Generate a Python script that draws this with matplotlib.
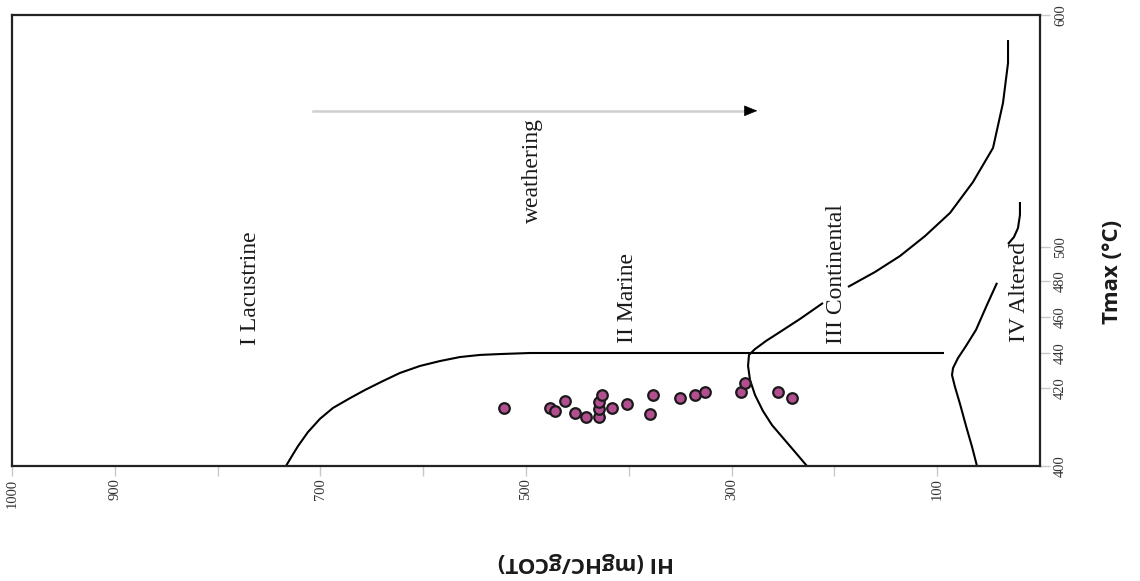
import numpy as np
import matplotlib
matplotlib.use("Agg")
import matplotlib.pyplot as plt

# ---------------- data ----------------
# Tmax axis knots (the reference axis is not uniform): tick values and relative spacing
tmax_ticks = [400, 420, 440, 460, 480, 500, 600]
tmax_pos = [0, 78, 113, 149, 185, 219, 451]   # relative position along the axis

hi_ticks = [1000, 900, 800, 700, 600, 500, 400, 300, 200, 100]
hi_labels = ["1000", "900", "", "700", "", "500", "", "300", "", "100"]

# samples
sample_hi = [521, 477, 472, 462, 452, 442, 429, 429, 429, 426, 416, 402, 379, 376,
             350, 336, 326, 291, 287, 255, 241]
sample_tmax = [414.9, 414.9, 414.1, 416.7, 413.6, 412.6, 412.6, 414.6, 416.4, 418.2,
               414.9, 415.9, 413.3, 418.2, 417.4, 418.2, 419.0, 419.0, 422.9, 419.0, 417.4]

# boundary curves
curve_a_hi = [733.5, 727.6, 721.8, 712.1, 700.4, 687.7, 671.2, 656.6, 639.1, 622.6,
              603.1, 583.7, 564.2, 544.7, 525.3, 496.1, 93.4]
curve_a_tmax = [400, 402.6, 405.1, 408.7, 412.1, 414.9, 417.4, 419.5, 424.0, 428.6,
                432.6, 435.4, 437.7, 438.9, 439.4, 440, 440]

curve_b_hi = [226.7, 238.3, 250, 260.7, 269.5, 277.2, 282.1, 284, 283.1, 277.2, 266.5,
              252.9, 233.5, 211.1, np.nan,
              186.8, 160.5, 136.2, 111.9, 87.5, 65.2, 45.7, 36, 31.1, 31.1]
curve_b_tmax = [400, 403.6, 407.2, 410.5, 414.1, 418.2, 424.6, 432.6, 438.9, 442.2, 446.7,
                451.7, 458.9, 467.8, np.nan,
                476.7, 485.3, 494.7, 504.7, 514.7, 528.0, 542.7, 562.1, 579.3, 589.2]

curve_c_hi = [61.3, 66.1, 72, 77.8, 82.7, 85.6, 84.6, 79.8, 72, 62.3, 51.6, 41.8]
curve_c_tmax = [400, 404.9, 410.3, 415.9, 420.6, 427.4, 431.4, 437.1, 443.9, 452.8, 466.7, 479.0]

curve_d_hi = [19.5, 19.5, 21.4, 25.3, 31.1]
curve_d_tmax = [519.4, 513.8, 508.2, 504.3, 501.3]

arrow_hi = [707, 287]          # grey shaft
arrow_head_hi = [287, 275]     # black head (base, tip)
arrow_tmax = 558.7

zone_labels = ["I Lacustrine", "weathering", "II Marine", "III Continental", "IV Altered"]
zone_hi = [768, 494, 401, 197.5, 20.4]
zone_tmax = [475.8, 533.0, 470.6, 484.1, 473.9]

# ---------------- figure ----------------
fig = plt.figure(figsize=(11.4, 5.81), dpi=100)
ax = fig.add_axes([12 / 1140, 1 - 466 / 581, (1040 - 12) / 1140, (466 - 15) / 581])


def fwd(t):
    return np.interp(t, tmax_ticks, tmax_pos)


def inv(u):
    return np.interp(u, tmax_pos, tmax_ticks)


ax.set_yscale("function", functions=(fwd, inv))
ax.set_xlim(1000, 0)
ax.set_ylim(400, 600)

serif = "Liberation Serif"

line_kw = dict(color="black", lw=1.5, solid_capstyle="butt", solid_joinstyle="round")
ax.plot(curve_a_hi, curve_a_tmax, **line_kw)
ax.plot(curve_b_hi, curve_b_tmax, **line_kw)
ax.plot(curve_c_hi, curve_c_tmax, **line_kw)
ax.plot(curve_d_hi, curve_d_tmax, **line_kw)

# weathering arrow
ax.plot(arrow_hi, [arrow_tmax, arrow_tmax], color="#cfcfcf", lw=1.8)
ax.annotate("", xy=(arrow_head_hi[1], arrow_tmax), xytext=(arrow_head_hi[0], arrow_tmax),
            arrowprops=dict(arrowstyle="-|>,head_length=0.85,head_width=0.35",
                            color="black", lw=0.5, shrinkA=0, shrinkB=0))

ax.scatter(sample_hi, sample_tmax, s=58, facecolor="#b2508f", edgecolor="#1a1a1a",
           linewidth=1.6, zorder=5)

for lab, h, t in zip(zone_labels, zone_hi, zone_tmax):
    ax.text(h, t, lab, rotation=90, ha="center", va="center", fontsize=17,
            family=serif, color="#1a1a1a")

# axes styling
for s in ax.spines.values():
    s.set_linewidth(1.6)
    s.set_color("#222222")

ax.set_xticks(hi_ticks)
ax.set_xticklabels(hi_labels)
ax.tick_params(axis="x", direction="out", length=7, width=1, color="#c8c8c8",
               labelsize=10.5, labelcolor="#333333", pad=2)
for lbl in ax.get_xticklabels():
    lbl.set_rotation(90)
    lbl.set_family(serif)
    lbl.set_va("top")
    lbl.set_ha("center")

ax.yaxis.tick_right()
ax.set_yticks(tmax_ticks)
ax.set_yticklabels([str(t) for t in tmax_ticks])
ax.yaxis.set_minor_locator(matplotlib.ticker.NullLocator())
ax.tick_params(axis="y", direction="out", length=7, width=1, color="#c8c8c8",
               labelsize=10.5, labelcolor="#333333", pad=3)
for lbl in ax.get_yticklabels():
    lbl.set_rotation(90)
    lbl.set_family(serif)
    lbl.set_va("center")
    lbl.set_ha("left")

fig.text(1113 / 1140, 1 - 272 / 581, "Tmax (°C)", rotation=90, ha="center", va="center",
         fontsize=16, fontweight="bold", family="Open Sans", color="#1a1a1a")
fig.text(586 / 1140, 1 - 563 / 581, "HI (mgHC/gCOT)", rotation=180, ha="center", va="center",
         fontsize=16, fontweight="bold", family="Open Sans", color="#1a1a1a")

fig.savefig("out.png", dpi=100, facecolor="white")
